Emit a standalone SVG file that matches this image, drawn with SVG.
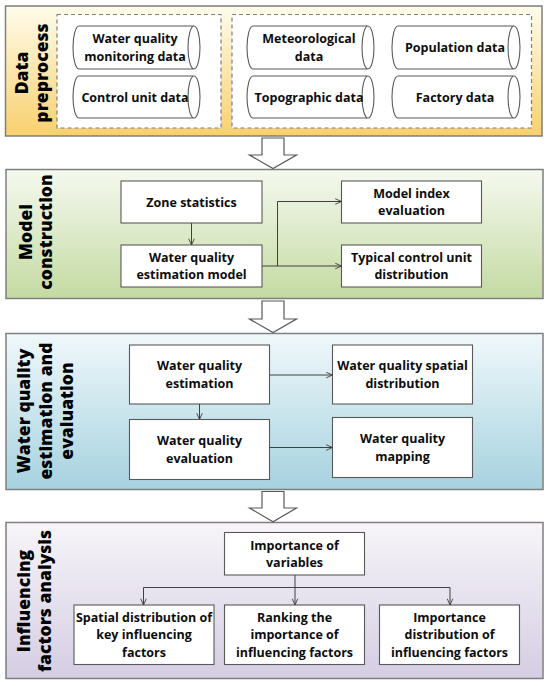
<svg xmlns="http://www.w3.org/2000/svg" width="550" height="686" viewBox="0 0 550 686">
<style>
.sec{stroke:#7f7f7f;stroke-width:1.5}
.node{fill:#ffffff;stroke:#595959;stroke-width:1.1}
.dash{fill:#ffffff;stroke:#7f7f7f;stroke-width:1.2;stroke-dasharray:4 3}
.cyl{fill:#ffffff;stroke:#595959;stroke-width:1.1}
.blk{fill:#ffffff;stroke:#595959;stroke-width:1.2}
.t{font-family:"Open Sans","Noto Sans",sans-serif;font-weight:bold;font-size:12.5px;fill:#0d0d0d;text-anchor:middle}
.title{font-family:"Open Sans","Noto Sans",sans-serif;font-weight:800;font-size:17.5px;fill:#000000;text-anchor:middle}
.con{fill:none;stroke:#404040;stroke-width:1}
</style>
<defs>
<linearGradient id="gY" x1="0" y1="0" x2="0" y2="1"><stop offset="0" stop-color="#fffcec"/><stop offset="1" stop-color="#f8d06e"/></linearGradient>
<linearGradient id="gG" x1="0" y1="0" x2="0" y2="1"><stop offset="0" stop-color="#f5f9ef"/><stop offset="1" stop-color="#c4daa2"/></linearGradient>
<linearGradient id="gB" x1="0" y1="0" x2="0" y2="1"><stop offset="0" stop-color="#f0f8fb"/><stop offset="1" stop-color="#a6d2df"/></linearGradient>
<linearGradient id="gP" x1="0" y1="0" x2="0" y2="1"><stop offset="0" stop-color="#f7f5f9"/><stop offset="1" stop-color="#d5cde3"/></linearGradient>
<marker id="arr" viewBox="0 0 10 10" refX="10" refY="5" markerWidth="7" markerHeight="7" markerUnits="userSpaceOnUse" orient="auto"><path d="M1,1 L10,5 L1,9" fill="none" stroke="#404040" stroke-width="1.3"/></marker>
</defs>

<g id="sec-data-preprocess">
<rect class="sec" x="5.5" y="6" width="536.5" height="130" fill="url(#gY)"/>
<text class="title" transform="translate(28,73) rotate(-90)"><tspan x="0" y="0">Data</tspan><tspan x="0" y="20">preprocess</tspan></text>
<rect class="dash" x="57" y="14.5" width="164" height="113.5"/>
<rect class="dash" x="232" y="14.5" width="299.5" height="113.5"/>
</g>
<g id="n-wq-monitoring">
<path class="cyl" d="M79,26 H194 A6,21.5 0 0 1 194,69 H79 A6,21.5 0 0 1 79,26 Z M194,26 A6,21.5 0 0 0 194,69"/>
<text class="t" x="135" y="43.3">Water quality<tspan x="135" y="60.7">monitoring data</tspan></text>
</g>
<g id="n-control-unit">
<path class="cyl" d="M79,76 H194 A6,21 0 0 1 194,118 H79 A6,21 0 0 1 79,76 Z M194,76 A6,21 0 0 0 194,118"/>
<text class="t" x="135" y="101.5">Control unit data</text>
</g>
<g id="n-meteorological">
<path class="cyl" d="M253,26 H368 A6,21.5 0 0 1 368,69 H253 A6,21.5 0 0 1 253,26 Z M368,26 A6,21.5 0 0 0 368,69"/>
<text class="t" x="309" y="43.3">Meteorological<tspan x="309" y="60.7">data</tspan></text>
</g>
<g id="n-topographic">
<path class="cyl" d="M253,76 H368 A6,21 0 0 1 368,118 H253 A6,21 0 0 1 253,76 Z M368,76 A6,21 0 0 0 368,118"/>
<text class="t" x="309" y="101.5">Topographic data</text>
</g>
<g id="n-population">
<path class="cyl" d="M398,26 H514 A6,21.5 0 0 1 514,69 H398 A6,21.5 0 0 1 398,26 Z M514,26 A6,21.5 0 0 0 514,69"/>
<text class="t" x="455" y="52">Population data</text>
</g>
<g id="n-factory">
<path class="cyl" d="M398,76 H514 A6,21 0 0 1 514,118 H398 A6,21 0 0 1 398,76 Z M514,76 A6,21 0 0 0 514,118"/>
<text class="t" x="455" y="101.5">Factory data</text>
</g>

<g id="sec-model-construction">
<rect class="sec" x="6" y="169.5" width="537" height="129" fill="url(#gG)"/>
<text class="title" transform="translate(32,232) rotate(-90)"><tspan x="0" y="0">Model</tspan><tspan x="0" y="20">construction</tspan></text>
</g>
<g id="n-zone-statistics">
<rect class="node" x="121" y="181" width="141" height="42"/>
<text class="t" x="191.5" y="206.5">Zone statistics</text>
</g>
<g id="n-wq-estimation-model">
<rect class="node" x="121" y="245" width="141" height="42"/>
<text class="t" x="191.5" y="261.8">Water quality<tspan x="191.5" y="279.2">estimation model</tspan></text>
</g>
<g id="n-model-index">
<rect class="node" x="341.5" y="181" width="140" height="42"/>
<text class="t" x="411.5" y="197.8">Model index<tspan x="411.5" y="215.2">evaluation</tspan></text>
</g>
<g id="n-typical-control">
<rect class="node" x="341.5" y="245" width="140" height="42"/>
<text class="t" x="411.5" y="261.8">Typical control unit<tspan x="411.5" y="279.2">distribution</tspan></text>
</g>

<g id="sec-wq-estimation">
<rect class="sec" x="6" y="333.5" width="537" height="156" fill="url(#gB)"/>
<text class="title" transform="translate(30,411) rotate(-90)"><tspan x="0" y="0">Water quality</tspan><tspan x="0" y="21.5">estimation and</tspan><tspan x="0" y="43">evaluation</tspan></text>
</g>
<g id="n-wq-estimation">
<rect class="node" x="129.5" y="345" width="140" height="59"/>
<text class="t" x="199.5" y="370.3">Water quality<tspan x="199.5" y="387.7">estimation</tspan></text>
</g>
<g id="n-wq-evaluation">
<rect class="node" x="129.5" y="419.5" width="140" height="60"/>
<text class="t" x="199.5" y="445.3">Water quality<tspan x="199.5" y="462.7">evaluation</tspan></text>
</g>
<g id="n-wq-spatial">
<rect class="node" x="332.5" y="345" width="140" height="59"/>
<text class="t" x="402.5" y="370.3">Water quality spatial<tspan x="402.5" y="387.7">distribution</tspan></text>
</g>
<g id="n-wq-mapping">
<rect class="node" x="332.5" y="417.5" width="140" height="60"/>
<text class="t" x="402.5" y="443.3">Water quality<tspan x="402.5" y="460.7">mapping</tspan></text>
</g>

<g id="sec-influencing">
<rect class="sec" x="6" y="522.5" width="537" height="156" fill="url(#gP)"/>
<text class="title" transform="translate(30,601) rotate(-90)"><tspan x="0" y="0">Influencing</tspan><tspan x="0" y="20.5">factors analysis</tspan></text>
</g>
<g id="n-importance-variables">
<rect class="node" x="224.5" y="532.5" width="140" height="42.5"/>
<text class="t" x="294.5" y="549.5">Importance of<tspan x="294.5" y="567">variables</tspan></text>
</g>
<g id="n-spatial-key">
<rect class="node" x="74" y="605" width="140" height="59.5"/>
<text class="t" x="144" y="621.7">Spatial distribution of<tspan x="144" y="639.3">key influencing</tspan><tspan x="144" y="656.8">factors</tspan></text>
</g>
<g id="n-ranking">
<rect class="node" x="224.5" y="605" width="140" height="59.5"/>
<text class="t" x="294.5" y="621.7">Ranking the<tspan x="294.5" y="639.3">importance of</tspan><tspan x="294.5" y="656.8">influencing factors</tspan></text>
</g>
<g id="n-importance-distribution">
<rect class="node" x="379.5" y="605" width="140" height="59.5"/>
<text class="t" x="449.5" y="621.7">Importance<tspan x="449.5" y="639.3">distribution of</tspan><tspan x="449.5" y="656.8">influencing factors</tspan></text>
</g>

<g id="connectors">
<polygon class="blk" points="262,138 284,138 284,155 296.5,155 273,168.5 249.5,155 262,155"/>
<polygon class="blk" points="262,301 284,301 284,319 296.5,319 273,332.5 249.5,319 262,319"/>
<polygon class="blk" points="262,491.5 284,491.5 284,508 296.5,508 273,521.8 249.5,508 262,508"/>
<path class="con" d="M191.5,223 V245" marker-end="url(#arr)"/>
<path class="con" d="M262,266 H341.5" marker-end="url(#arr)"/>
<path class="con" d="M277.5,266 V201.5 H341.5" marker-end="url(#arr)"/>
<path class="con" d="M199.5,404 V419.5" marker-end="url(#arr)"/>
<path class="con" d="M269.5,375 H332.5" marker-end="url(#arr)"/>
<path class="con" d="M269.5,447.5 H332.5" marker-end="url(#arr)"/>
<path class="con" d="M295,575 V605" marker-end="url(#arr)"/>
<path class="con" d="M143.5,587.5 H450 V605" marker-end="url(#arr)"/>
<path class="con" d="M143.5,587.5 V605" marker-end="url(#arr)"/>
</g>
</svg>
